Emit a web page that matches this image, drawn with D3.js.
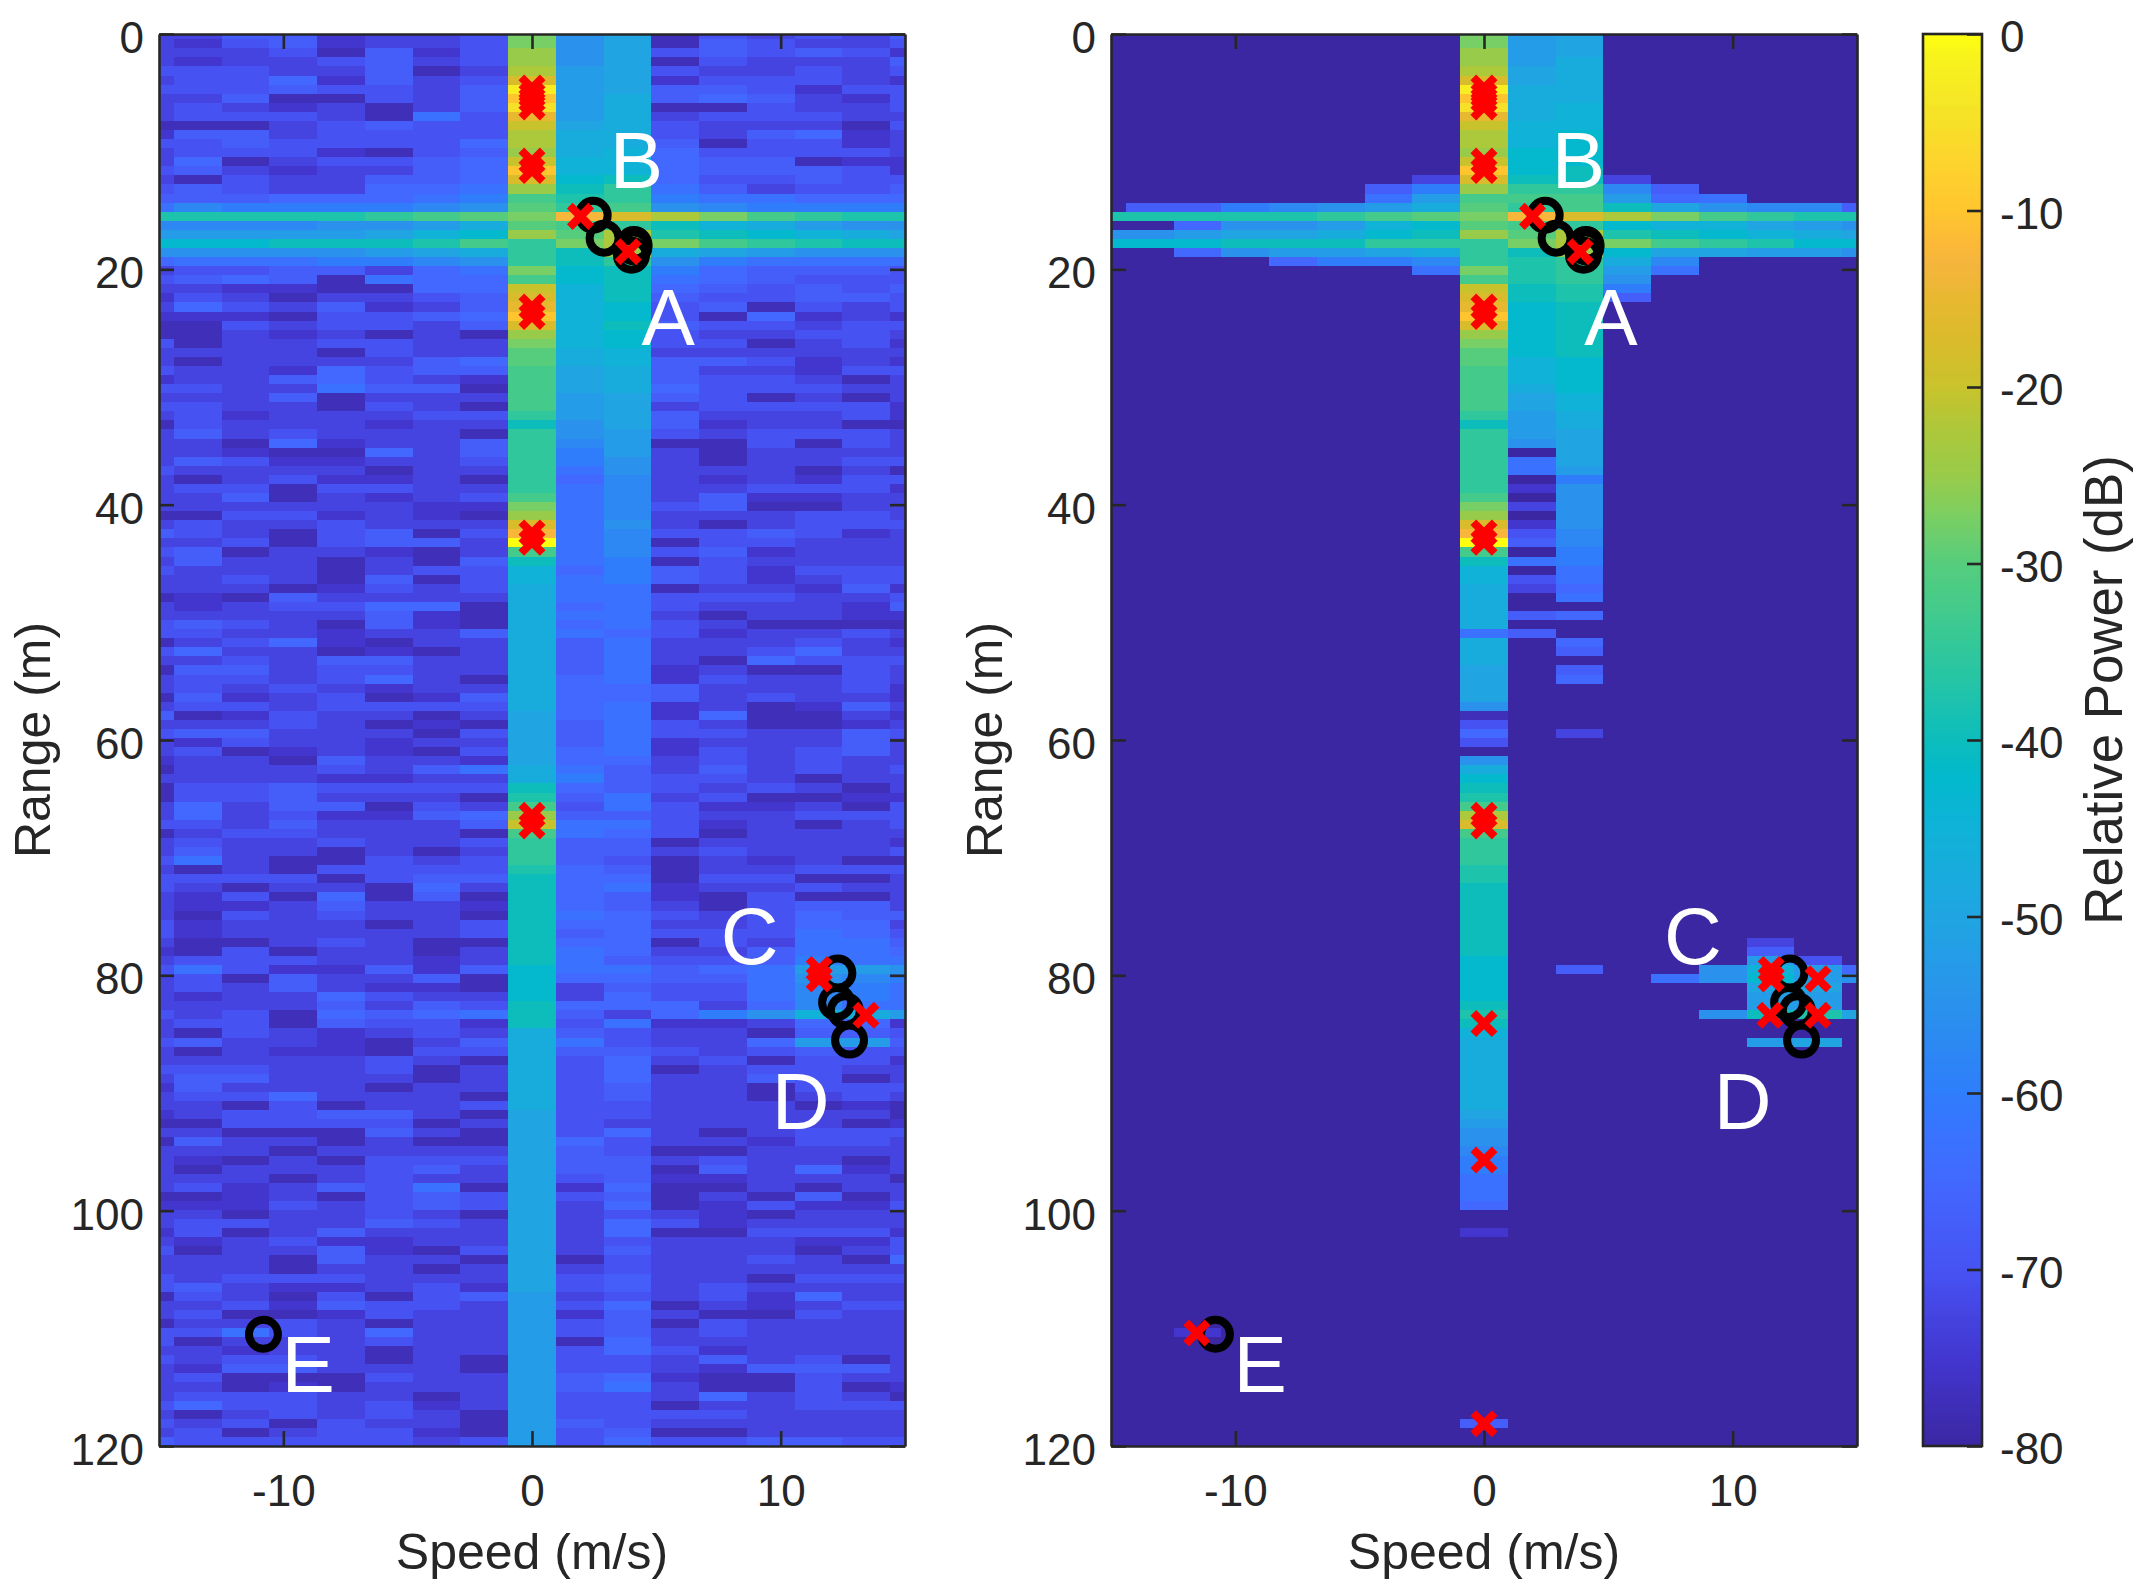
<!DOCTYPE html>
<html>
<head>
<meta charset="utf-8">
<script src="https://cdn.jsdelivr.net/npm/d3@7"></script>
<style>
    html, body { margin: 0; padding: 0; background: #fff; }
    text { font-family: "Liberation Sans", Arial, sans-serif; fill: #262626; }
</style>
</head>
<body>
<div id="chart"></div>
<script>
// Each row below is one range bin, each character one speed bin (17 bins, -16 .. +16 m/s).
// A character is a power level: base-36 digit, 0 = -80 dB, w = 0 dB, in 2.5 dB steps.
const raw_rows = [
"33552334lac143435","32452334lac154334","33341524mac454542","32334534mac143335","44433513nbc433434",
"34462534pbc244432","44454435vbc554244","33511435sbd565324","34323135ubd114334","34443174qbd344433",
"11134544ocd433314","25534444ndd435623","44544446ndd514423","34442145mde644443","36134456oee655122",
"45323356see655542","31433556pfg644544","45433667mgi753445","55566678jhi877666","7988889akija98888",
"hhhhhijklrpnljihh","9999aabdkjigedbaa","bbbbbcefmknhgfedc","fffggghjilnljihgg","aaaaabcdigmdcbaaa",
"6777889aigia87777","34455367lfg865554","45651766jfg765444","33221166oeg654545","24313345peg544554",
"36435235qef451434","22214456sef416232","11434435peg544344","11323131mef433443","41334433lef441342",
"33331433kde333333","31333356kde554232","43326455jcd533244","23356432jcd544313","44337551jcd644433",
"33351333jbc541313","44331431jbc344442","34233344ibc533342","14333233gac523311","35343331iab434443",
"33162335i9b114143","33211635i8b313333","35422334i8a313344","43333133i7a333131","31342231i69323244",
"34414433i79334442","33513234j79352233","33333322l79451133","11442321m79333443","34334333p7a313444",
"54314514r79445423","33414553w79144333","45133213j79452333","35331315g78143333","43331344e68542444",
"33431514e78542344","33312434d77133252","12153333d77444334","32344661d67433325","33333521d77313322",
"45431521d67431111","44332335d76423343","13462133d57333432","46331213d57334633","33435533d57316444",
"15534433d57231143","34434631d67243343","34343233d66533342","15234125d66534332","34434444d67231253",
"51243313c67261132","33343121c57431123","45533314c57443354","32433233c57233353","34123214c67243453",
"23315332c66343433","13334357d75353434","33332233d85443133","14454444g65434313","14453331h57341122",
"36355143j47422314","36342256m55433444","44353335o77423134","13443331j76413333","34334334i55133332",
"35331313i55343334","47311434i54132311","31314444h65133444","44441455g66144113","43133163g67233433",
"32416151g65214113","32235332g65314553","31434331g76434655","42333134g66334663","42333334g56444764",
"31134311g66143775","21413313g76335776","34443323g75445877","47422525f77567bba","34153351f66557a98",
"34353221f35447987","32336433f36447987","33335354g66636977","43416567g5368aedb","34415442g47223662",
"31432343d54331554","45332135d74336bb5","31322144d55434544","33333431d46341442","44433413d46134433",
"35533313d46335413","25333133d45331444","34463331d45331343","33141334d44333121","23445531c44333331",
"11444413c43333312","33111531c46313444","15331311c64332443","33313333c54113333","32131444c55343313",
"31333453c55153623","33313433c45223331","34235471c26113133","11231454c45131513","22243454c36124224",
"33133431c34321333","34433543c36423333","24135333c36114442","32342233c34333224","41335214c35333134",
"33315331c14334316","33313313c34333333","43444333c45331444","45322342c45343333","14314145b34342633",
"33425443b46132344","34112433b25311433","13343133b45143333","44743633b45343333","41333433b16333333",
"33233133b46423333","43443131b44353413","32553331b44325553","34111433b56211433","33121333b57311412",
"34443313b44363431","46443423b44133444","31343431b44443333","43414331b54333333","34134421b45113333",
"54444434b46445544"
];
const cfar_rows = [
"00000000lbc000000","00000000lbc000000","00000000mbc000000","00000000mbd000000","00000000ncd000000",
"00000000pcd000000","00000000vdd000000","00000000sdd000000","00000000ude000000","00000000qde000000",
"00000000oee000000","00000000nef000000","00000000nef000000","00000000mff000000","00000000off000000",
"00000000sfg000000","00000003pgg300000","00000058mii950000","0000007bjjjb67000","05589abdkijgca995",
"hhhhhijklrpnljihh","006aabefkjifeecba","aabccdfgmknhgfedc","fffgggiiilnljihff","006abbcdigmfccbba",
"00006889ihid90000","00000007lhib70000","00000000jhia00000","00000000ogh800000","00000000pgh500000",
"00000000qfg000000","00000000sfg000000","00000000pfg000000","00000000mfg000000","00000000lfg000000",
"00000000kfg000000","00000000kef000000","00000000jef000000","00000000jef000000","00000000jdf000000",
"00000000jce000000","00000000jce000000","00000000ibd000000","00000000gbd000000","00000000ibc000000",
"00000000iac000000","00000000i0c000000","00000000i7c000000","00000000i7b000000","00000000i08000000",
"00000000i2a000000","00000000j0a000000","00000000l3a000000","00000000m0a000000","00000000p2a000000",
"00000000r49000000","00000000w59000000","00000000j08000000","00000000g78000000","00000000e07000000",
"00000000e47000000","00000000d36000000","00000000d07000000","00000000d00000000","00000000d56000000",
"00000000d00000000","00000000750000000","00000000d06000000","00000000d05000000","00000000d00000000",
"00000000c05000000","00000000c06000000","00000000c00000000","00000000c00000000","00000000a00000000",
"00000000100000000","00000000400000000","00000000603000000","00000000400000000","00000000000000000",
"00000000a00000000","00000000d00000000","00000000f00000000","00000000g00000000","00000000h00000000",
"00000000j00000000","00000000n00000000","00000000p00000000","00000000j00000000","00000000i00000000",
"00000000i00000000","00000000i00000000","00000000h00000000","00000000h00000000","00000000g00000000",
"00000000g00000000","00000000g00000000","00000000g00000000","00000000g00000000","00000000g00000000",
"00000000g00000300","00000000g00000500","00000000f00000b40","00000000f0500aeb6","00000000f0007afba",
"00000000f00000cc0","00000000f00000bb0","00000000g00000bb0","00000000h0000aghc","00000000g00000000",
"00000000e00000000","00000000d00000bc0","00000000d00000000","00000000d00000000","00000000d00000000",
"00000000d00000000","00000000d00000000","00000000d00000000","00000000d00000000","00000000c00000000",
"00000000b00000000","00000000a00000000","00000000a00000000","00000000900000000","00000000800000000",
"00000000800000000","00000000700000000","00000000700000000","00000000700000000","00000000600000000",
"00000000000000000","00000000000000000","00000000200000000","00000000000000000","00000000000000000",
"00000000000000000","00000000000000000","00000000000000000","00000000000000000","00000000000000000",
"00000000000000000","00000000000000000","00000000000000000","00200000000000000","00000000000000000",
"00000000000000000","00000000000000000","00000000000000000","00000000000000000","00000000000000000",
"00000000000000000","00000000000000000","00000000000000000","00000000500000000","00000000000000000",
"00000000000000000"
];

// Bin sizes
const speed_step = 1.92;
const range_step = 0.7713;
const range_offset = 0.06;

// Colormap stops
const cmap_db = [-80, -75, -70, -65, -62, -60, -55, -50, -45, -42, -40, -37, -35, -33, -30, -27, -25, -22, -20, -17, -15, -13, -12, -10, -7, -4, -1, 0];
const cmap_colors = ["#3b27a2", "#4236cf", "#4752f3", "#4268ff", "#3874ff", "#2f7dfb", "#2a92ec", "#20a5e2", "#10b2d8", "#02b9cc", "#0cbdbc", "#22c4a8", "#30c79c", "#40ca8e", "#55cd7d", "#7fcf60", "#98cb4a", "#b0c738", "#c8c32c", "#dcba2c", "#e8b830", "#f5b53e", "#fbb838", "#ffc52f", "#fcd52c", "#f5e526", "#f8f51a", "#ffff10"];

// Tick labels
const speed_ticks = [-10, 0, 10];
const range_ticks = [0, 20, 40, 60, 80, 100, 120];
const power_ticks = [-80, -70, -60, -50, -40, -30, -20, -10, 0];

// Black circles (tracker), same in both panels
const track_speed = [2.46, 2.9, 4.1, 4.1, 4.0, 12.3, 12.25, 12.6, 12.77, -10.8];
const track_range = [15.4, 17.35, 17.9, 18.1, 18.8, 79.8, 82.3, 83.0, 85.5, 110.5];

// Red crosses (detections)
const raw_det_speed = [0, 0, 0, 0, 0, 0, 0, 0, 0, 0, 0, 0, 1.95, 3.87, 11.55, 11.55, 13.43];
const raw_det_range = [4.6, 5.2, 5.6, 6.2, 10.8, 11.6, 23.2, 24.0, 42.4, 43.2, 66.4, 67.3, 15.5, 18.5, 79.5, 80.3, 83.4];
const cfar_det_speed = [0, 0, 0, 0, 0, 0, 0, 0, 0, 0, 0, 0, 1.95, 3.87, 11.55, 11.55, 13.43, 13.43, 11.5, 0, 0, 0, -11.55];
const cfar_det_range = [4.6, 5.2, 5.6, 6.2, 10.8, 11.6, 23.2, 24.0, 42.4, 43.2, 66.4, 67.3, 15.5, 18.5, 79.5, 80.3, 83.4, 80.3, 83.4, 84.1, 95.7, 118.1, 110.4];

// Target letters
const letters = ["A", "B", "C", "D", "E"];
const raw_letter_speed = [5.48, 4.2, 8.75, 10.8, -9.0];
const cfar_letter_speed = [5.1, 3.8, 8.4, 10.4, -9.0];
const letter_range = [26.45, 13.1, 79.0, 93.1, 115.4];

function draw_chart() {
    const width = 2149;
    const height = 1589;
    const top = 34;
    const bottom = 1446;
    const panel_width = 746;
    const tick_len = 15;
    const tick_font = 44;
    const label_font = 50;
    const ink = "#262626";

    const colors = d3.scaleLinear().domain(cmap_db).range(cmap_colors).interpolate(d3.interpolateRgb);
    const y = d3.scaleLinear().domain([0, 120]).range([top, bottom]);

    const svg = d3.select("#chart").append("svg")
        .attr("width", width)
        .attr("height", height)
        .style("display", "block");

    function style_axis(g) {
        g.selectAll("path").attr("stroke", ink).attr("stroke-width", 2.6);
        g.selectAll("line").attr("stroke", ink).attr("stroke-width", 2.6);
        g.selectAll("text").attr("fill", ink).style("font-size", tick_font + "px");
    }

    function draw_panel(left, rows, det_speed, det_range, letter_speed, name) {
        const x = d3.scaleLinear().domain([-15, 15]).range([left, left + panel_width]);
        const clip_id = "clip-" + name;

        svg.append("clipPath").attr("id", clip_id)
            .append("rect")
            .attr("x", left).attr("y", top)
            .attr("width", panel_width).attr("height", bottom - top);

        // Heat map cells
        const cells = [];
        rows.forEach((row, r) => {
            row.split("").forEach((ch, c) => {
                cells.push({s: (c - 8) * speed_step, r: r * range_step + range_offset, db: -80 + 2.5 * parseInt(ch, 36)});
            });
        });
        svg.append("g")
            .attr("clip-path", "url(#" + clip_id + ")")
            .attr("shape-rendering", "crispEdges")
            .selectAll("rect")
            .data(cells)
            .join("rect")
            .attr("x", d => x(d.s - speed_step / 2))
            .attr("y", d => y(d.r - range_step / 2))
            .attr("width", x(speed_step) - x(0) + 0.5)
            .attr("height", y(range_step) - y(0) + 0.5)
            .attr("fill", d => colors(d.db));

        // Axes: ticks point inside on all four sides
        svg.append("g").attr("transform", `translate(0,${bottom})`)
            .call(d3.axisBottom(x).tickValues(speed_ticks).tickFormat(d => String(d)).tickSize(-tick_len).tickSizeOuter(0).tickPadding(29))
            .call(style_axis);
        svg.append("g").attr("transform", `translate(0,${top})`)
            .call(d3.axisTop(x).tickValues(speed_ticks).tickFormat("").tickSize(-tick_len).tickSizeOuter(0))
            .call(style_axis);
        const left_axis = svg.append("g").attr("transform", `translate(${left},0)`)
            .call(d3.axisLeft(y).tickValues(range_ticks).tickFormat(d => String(d)).tickSize(-tick_len).tickSizeOuter(0).tickPadding(15))
            .call(style_axis);
        left_axis.selectAll("text").attr("dy", "0.42em");
        svg.append("g").attr("transform", `translate(${left + panel_width},0)`)
            .call(d3.axisRight(y).tickValues(range_ticks).tickFormat("").tickSize(-tick_len).tickSizeOuter(0))
            .call(style_axis);

        // Axis labels
        svg.append("text")
            .attr("x", left + panel_width / 2)
            .attr("y", 1569)
            .attr("text-anchor", "middle")
            .style("font-size", label_font + "px")
            .text("Speed (m/s)");
        svg.append("text")
            .attr("transform", `translate(${left - 109},${(top + bottom) / 2}) rotate(-90)`)
            .attr("text-anchor", "middle")
            .style("font-size", label_font + "px")
            .text("Range (m)");

        // Tracker circles
        svg.append("g").selectAll("circle")
            .data(track_speed)
            .join("circle")
            .attr("cx", d => x(d))
            .attr("cy", (d, i) => y(track_range[i]))
            .attr("r", 14.5)
            .attr("fill", "none")
            .attr("stroke", "#000")
            .attr("stroke-width", 8);

        // Detections
        const cross = d3.symbol().type(d3.symbolTimes).size(300);
        svg.append("g").selectAll("path")
            .data(det_speed)
            .join("path")
            .attr("d", cross)
            .attr("transform", (d, i) => `translate(${x(d)},${y(det_range[i])})`)
            .attr("fill", "none")
            .attr("stroke", "#ff0000")
            .attr("stroke-width", 8);

        // Target letters
        svg.append("g").selectAll("text")
            .data(letters)
            .join("text")
            .attr("x", (d, i) => x(letter_speed[i]))
            .attr("y", (d, i) => y(letter_range[i]))
            .attr("text-anchor", "middle")
            .style("font-size", "80px")
            .style("fill", "#fff")
            .text(d => d);
    }

    function draw_colorbar() {
        const bar_left = 1923;
        const bar_right = 1982;
        const c = d3.scaleLinear().domain([-80, 0]).range([bottom, top]);
        const steps = d3.range(-80, 0, 0.25);

        svg.append("g")
            .attr("shape-rendering", "crispEdges")
            .selectAll("rect")
            .data(steps)
            .join("rect")
            .attr("x", bar_left)
            .attr("y", d => c(d + 0.25))
            .attr("width", bar_right - bar_left)
            .attr("height", c(0) - c(0.25) + 1)
            .attr("fill", d => colors(d + 0.125));

        svg.append("rect")
            .attr("x", bar_left).attr("y", top)
            .attr("width", bar_right - bar_left).attr("height", bottom - top)
            .attr("fill", "none").attr("stroke", ink).attr("stroke-width", 2.6);

        const axis = svg.append("g").attr("transform", `translate(${bar_right},0)`)
            .call(d3.axisRight(c).tickValues(power_ticks).tickFormat(d => String(d)).tickSize(-tick_len).tickSizeOuter(0).tickPadding(18))
            .call(style_axis);
        axis.select("path").remove();
        axis.selectAll("text").attr("dy", "0.4em");

        svg.append("text")
            .attr("transform", "translate(2122,690) rotate(-90)")
            .attr("text-anchor", "middle")
            .style("font-size", "52.8px")
            .text("Relative Power (dB)");
    }

    try {
        draw_panel(159, raw_rows, raw_det_speed, raw_det_range, raw_letter_speed, "raw");
        draw_panel(1111, cfar_rows, cfar_det_speed, cfar_det_range, cfar_letter_speed, "cfar");
        draw_colorbar();
    } catch (error) {
        console.error(error);
    }
}

draw_chart();
</script>
</body>
</html>
